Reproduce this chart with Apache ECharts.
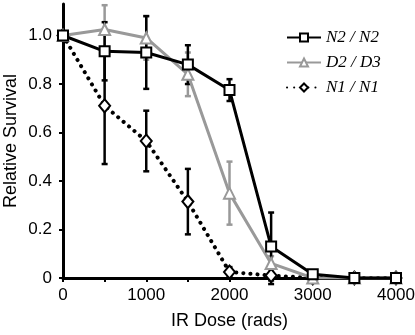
<!DOCTYPE html>
<html>
<head>
<meta charset="utf-8">
<script src="https://cdn.jsdelivr.net/npm/echarts@6/dist/echarts.min.js"></script>
<style>
  html, body { margin: 0; padding: 0; background: #fff; }
  #chart { width: 415px; height: 335px; }
</style>
</head>
<body>
<div id="chart"></div>
<script>
// dose (rads)
const doses = [0, 500, 1000, 1500, 2000, 2500, 3000, 3500, 4000];
const xTicks = [0, 500, 1000, 1500, 2000, 2500, 3000, 3500, 4000];
const xLabels = [0, 1000, 2000, 3000, 4000];
const yTicks = [0, 0.2, 0.4, 0.6, 0.8, 1.0];

// relative survival + error (+/-)
const n2 = [1.0, 0.935, 0.93, 0.88, 0.775, 0.13, 0.015, 0, 0];
const n2Err = [0, 0.12, 0.15, 0.08, 0.045, 0.14, 0.01, 0, 0];
const d2 = [1.0, 1.025, 0.99, 0.84, 0.35, 0.06, 0.0, 0, 0];
const d2Err = [0, 0.1, 0.09, 0.09, 0.13, 0.03, 0, 0, 0];
const n1 = [1.0, 0.71, 0.565, 0.315, 0.025, 0.01, 0, 0, 0];
const n1Err = [0, 0.24, 0.125, 0.135, 0.02, 0.035, 0, 0, 0];

const chart = echarts.init(document.getElementById('chart'));

function pairs(ys) {
  return doses.map((d, i) => [d, ys[i]]);
}

// error bars as custom series
function errSeries(ys, err, color, z) {
  const data = [];
  doses.forEach((d, i) => {
    if (err[i] > 0) data.push([d, ys[i] - err[i], ys[i] + err[i]]);
  });
  return {
    type: 'custom',
    silent: true,
    z: z,
    clip: false,
    data: data,
    renderItem: (params, api) => {
      const lo = api.coord([api.value(0), api.value(1)]);
      const hi = api.coord([api.value(0), api.value(2)]);
      const w = 3;
      const style = { stroke: color, lineWidth: 2.5 };
      return {
        type: 'group',
        children: [
          { type: 'line', shape: { x1: lo[0], y1: lo[1], x2: hi[0], y2: hi[1] }, style },
          { type: 'line', shape: { x1: lo[0] - w, y1: lo[1], x2: lo[0] + w, y2: lo[1] }, style },
          { type: 'line', shape: { x1: hi[0] - w, y1: hi[1], x2: hi[0] + w, y2: hi[1] }, style },
        ],
      };
    },
  };
}

const axisFont = { fontFamily: 'Liberation Sans, Arial, sans-serif', fontSize: 17, color: '#000' };
const nameFont = { fontFamily: 'Liberation Sans, Arial, sans-serif', fontSize: 18, color: '#000' };

chart.setOption({
  animation: false,
  backgroundColor: '#fff',
  grid: { left: 63, right: 19, top: 4, bottom: 57, containLabel: false, outerBoundsMode: 'none' },
  legend: {
    orient: 'vertical',
    left: 281,
    top: 24,
    itemWidth: 34,
    itemHeight: 10,
    itemGap: 8,
    textStyle: { fontFamily: 'Liberation Serif, Times New Roman, serif', fontStyle: 'italic', fontSize: 17, color: '#000' },
    data: ['N2 / N2', 'D2 / D3', 'N1 / N1'],
  },
  xAxis: {
    type: 'value',
    min: 0,
    max: 4000,
    interval: 500,
    name: 'IR Dose (rads)',
    nameLocation: 'middle',
    nameGap: 34,
    nameMoveOverlap: false,
    nameTextStyle: nameFont,
    axisLine: { onZero: false, lineStyle: { color: '#000', width: 3 } },
    axisTick: { show: true, length: 4, customValues: xTicks, lineStyle: { color: '#000', width: 2 } },
    axisLabel: { ...axisFont, margin: 9, customValues: xLabels, formatter: v => String(v) },
    splitLine: { show: false },
  },
  yAxis: {
    type: 'value',
    min: 0,
    max: 1.13,
    name: 'Relative Survival',
    nameLocation: 'middle',
    nameGap: 43,
    nameMoveOverlap: false,
    nameTextStyle: nameFont,
    axisLine: { show: true, lineStyle: { color: '#000', width: 3 } },
    axisTick: { show: true, length: 4, customValues: yTicks, lineStyle: { color: '#000', width: 2 } },
    axisLabel: {
      ...axisFont,
      margin: 11,
      customValues: yTicks,
      formatter: v => (v === 0 ? '0' : v.toFixed(1)),
    },
    splitLine: { show: false },
  },
  series: [
    errSeries(n1, n1Err, '#000', 1),
    errSeries(d2, d2Err, '#999', 2),
    errSeries(n2, n2Err, '#000', 3),
    {
      name: 'N1 / N1',
      type: 'line',
      z: 4,
      data: pairs(n1),
      symbol: 'diamond',
      symbolSize: [11, 13],
      showAllSymbol: true,
      lineStyle: { color: '#000', width: 4, type: [0.1, 7], cap: 'round' },
      itemStyle: { color: '#fff', borderColor: '#000', borderWidth: 2 },
    },
    {
      name: 'D2 / D3',
      type: 'line',
      z: 5,
      data: pairs(d2),
      symbol: 'triangle',
      symbolSize: 11,
      lineStyle: { color: '#999', width: 3 },
      itemStyle: { color: '#fff', borderColor: '#999', borderWidth: 2 },
    },
    {
      name: 'N2 / N2',
      type: 'line',
      z: 6,
      data: pairs(n2),
      symbol: 'rect',
      symbolSize: 10,
      lineStyle: { color: '#000', width: 3 },
      itemStyle: { color: '#fff', borderColor: '#000', borderWidth: 2 },
    },
  ],
});
</script>
</body>
</html>
